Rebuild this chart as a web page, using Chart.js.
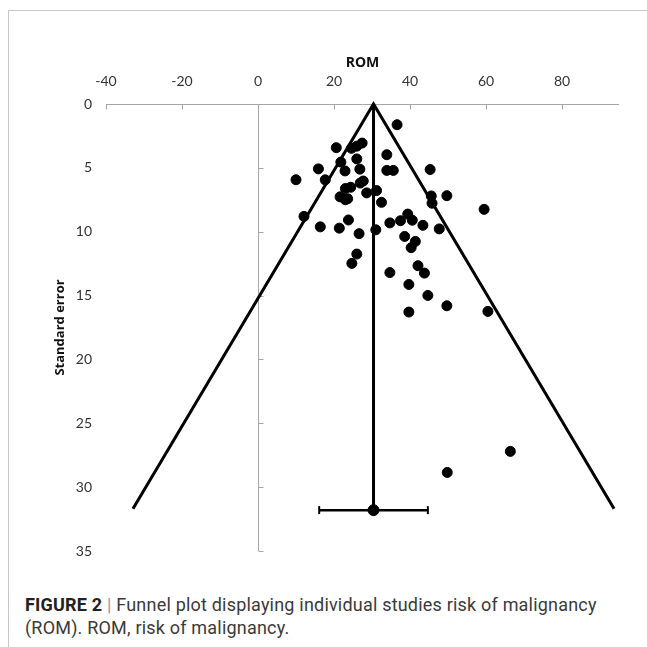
<!DOCTYPE html>
<html>
<head>
<meta charset="utf-8">
<script src="https://cdn.jsdelivr.net/npm/chart.js@4.4.1/dist/chart.umd.min.js"></script>
<style>
  body { margin: 0; background: #fff; }
  #frame { position: absolute; left: 8px; top: 10px; width: 700px; height: 700px;
    border-left: 1px solid #c8c8c8; border-top: 1px solid #c8c8c8; }
  #wrap { position: absolute; left: 0; top: 0; width: 647px; height: 575px; }
  #caption { position: absolute; left: 25px; top: 593px; width: 600px;
    font-family: "Roboto", sans-serif; font-size: 18px; letter-spacing: 0.2px;
    line-height: 23px; color: #3a3a3a; }
  #caption b { color: #222; }
  #caption .sep { color: #999; }
</style>
</head>
<body>
<div id="frame"></div>
<div id="wrap"><canvas id="chart"></canvas></div>
<div id="caption"><b>FIGURE 2</b> <span class="sep">|</span> Funnel plot displaying individual studies risk of malignancy<br>(ROM). ROM, risk of malignancy.</div>
<script>
'use strict'

// individual studies: ROM (%) and its standard error
const studyRom = [
  36.6, 20.6, 24.6, 26.0, 27.4, 33.9, 21.8, 26.0, 15.9, 22.9,
  26.8, 33.9, 35.6, 45.3, 10.0, 17.7, 26.9, 27.7, 23.0, 24.4,
  28.6, 31.2, 21.6, 23.0, 23.6, 32.5, 45.6, 45.8, 49.7, 59.5,
  12.1, 23.8, 16.4, 21.4, 26.6, 31.0, 34.7, 37.5, 39.4, 40.6,
  43.4, 47.7, 38.6, 41.4, 40.3, 26.0, 24.7, 42.1, 34.7, 43.8,
  39.7, 44.7, 49.7, 39.7, 60.5, 66.4, 49.8
]
const studySe = [
  1.62, 3.42, 3.47, 3.30, 3.06, 3.97, 4.55, 4.30, 5.08, 5.24,
  5.10, 5.20, 5.20, 5.13, 5.93, 5.94, 6.19, 6.03, 6.62, 6.52,
  6.96, 6.78, 7.27, 7.50, 7.42, 7.70, 7.20, 7.77, 7.18, 8.25,
  8.80, 9.08, 9.62, 9.72, 10.15, 9.85, 9.31, 9.14, 8.62, 9.10,
  9.50, 9.78, 10.37, 10.76, 11.25, 11.75, 12.48, 12.66, 13.20, 13.24,
  14.13, 14.99, 15.80, 16.29, 16.24, 27.20, 28.85
]

// pooled estimate and its 95% CI
const pooledRom = 30.4
const pooledSe = 31.8
const pooledCi = [16.1, 44.7]

// funnel outline (left bottom, apex, right bottom)
const funnelRom = [-32.9, 30.4, 93.7]
const funnelSe = [31.7, 0, 31.7]

// vertical line at pooled estimate
const centerRom = [30.4, 30.4]
const centerSe = [0, 31.7]

const xTicks = [-40, -20, 0, 20, 40, 60, 80]
const yTicks = [0, 5, 10, 15, 20, 25, 30, 35]

const toPoints = (xs, ys) => xs.map((x, i) => ({ x, y: ys[i] }))

const axisColor = '#a6a6a6'
const labelFont = { family: 'Lato, "Open Sans", sans-serif', size: 14 }

// axis lines crossing at x = 0, tick marks pointing inside
const axisLines = {
  id: 'axisLines',
  beforeDatasetsDraw(chart) {
    const { ctx, chartArea, scales: { x, y } } = chart
    const x0 = Math.round(x.getPixelForValue(0)) + 0.5
    const yTop = Math.round(chartArea.top) + 0.5
    ctx.save()
    ctx.strokeStyle = axisColor
    ctx.lineWidth = 1
    ctx.beginPath()
    ctx.moveTo(chartArea.left, yTop)
    ctx.lineTo(chartArea.right, yTop)
    xTicks.forEach(v => {
      const px = Math.round(x.getPixelForValue(v)) + 0.5
      ctx.moveTo(px, yTop)
      ctx.lineTo(px, yTop + 5)
    })
    ctx.moveTo(x0, yTop)
    ctx.lineTo(x0, chartArea.bottom)
    yTicks.forEach(v => {
      const py = Math.round(y.getPixelForValue(v)) + 0.5
      ctx.moveTo(x0, py)
      ctx.lineTo(x0 + 5, py)
    })
    ctx.stroke()
    ctx.restore()
  }
}

const ctx = document.getElementById('chart').getContext('2d')

new Chart(ctx, {
  type: 'scatter',
  data: {
    datasets: [
      {
        label: 'Studies',
        data: toPoints(studyRom, studySe),
        backgroundColor: '#000',
        borderColor: '#000',
        pointRadius: 5,
        pointHoverRadius: 5
      },
      {
        label: 'Pooled',
        data: [{ x: pooledRom, y: pooledSe }],
        backgroundColor: '#000',
        borderColor: '#000',
        pointRadius: 5.5
      },
      {
        label: 'CI',
        data: toPoints(pooledCi, [pooledSe, pooledSe]),
        showLine: true,
        borderColor: '#000',
        borderWidth: 2.5,
        pointStyle: 'line',
        rotation: 90,
        pointRadius: 4,
        pointBorderWidth: 2,
        pointBorderColor: '#000'
      },
      {
        label: 'Center',
        data: toPoints(centerRom, centerSe),
        showLine: true,
        borderColor: '#000',
        borderWidth: 3,
        pointRadius: 0
      },
      {
        label: 'Funnel',
        data: toPoints(funnelRom, funnelSe),
        showLine: true,
        borderColor: '#000',
        borderWidth: 3,
        pointRadius: 0
      }
    ]
  },
  options: {
    responsive: true,
    maintainAspectRatio: false,
    animation: false,
    clip: false,
    layout: { padding: { left: 0, top: 0, right: 28, bottom: 24 } },
    plugins: {
      legend: { display: false },
      tooltip: { enabled: false }
    },
    scales: {
      x: {
        type: 'linear',
        position: 'top',
        min: -40,
        max: 95,
        afterBuildTicks: scale => {
          scale.ticks = xTicks.map(value => ({ value }))
        },
        afterFit: scale => { scale.height = 104 },
        grid: { display: false, drawTicks: false },
        border: { display: false },
        ticks: { color: '#333', font: labelFont, padding: 14, maxRotation: 0 },
        title: {
          display: true,
          text: 'ROM',
          color: '#111',
          font: { family: '"Open Sans", sans-serif', size: 14, weight: 'bold' },
          padding: { top: 55, bottom: 0 }
        }
      },
      y: {
        type: 'linear',
        reverse: true,
        min: 0,
        max: 35,
        afterBuildTicks: scale => {
          scale.ticks = yTicks.map(value => ({ value }))
        },
        afterFit: scale => { scale.width = 106 },
        grid: { display: false, drawTicks: false },
        border: { display: false },
        ticks: { color: '#333', font: labelFont, padding: 14 },
        title: {
          display: true,
          text: 'Standard error',
          color: '#111',
          font: { family: '"Open Sans", sans-serif', size: 13, weight: 'bold' },
          padding: { top: 52, bottom: 0 }
        }
      }
    }
  },
  plugins: [axisLines]
})
</script>
</body>
</html>
